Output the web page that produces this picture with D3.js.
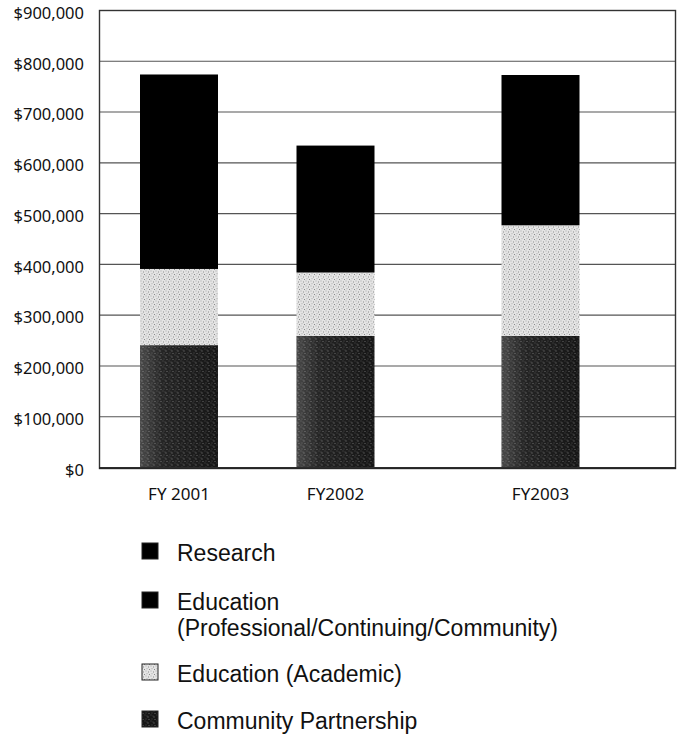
<!DOCTYPE html>
<html>
<head>
<meta charset="utf-8">
<script src="https://cdn.jsdelivr.net/npm/d3@7"></script>
<style>
  html, body { margin: 0; padding: 0; background: #fff; }
  svg { display: block; }
  text { font-family: "Noto Sans", "Open Sans", sans-serif; fill: #111; }
  text.legend { font-family: "Liberation Sans", Arial, sans-serif; }
</style>
</head>
<body>
<script>
// ---- Data ----
const categories = ["FY 2001", "FY2002", "FY2003"];
const communityPartnership = [240000, 258000, 258000];
const educationAcademic = [150000, 125000, 218000];
// Both black series show no visible boundary in the reference; the whole black block is shown as Research.
const educationProfessional = [0, 0, 0];
const research = [383000, 250000, 296000];
const yTicks = [0, 100000, 200000, 300000, 400000, 500000, 600000, 700000, 800000, 900000];
const legendLabels = [
  ["Research"],
  ["Education", "(Professional/Continuing/Community)"],
  ["Education (Academic)"],
  ["Community Partnership"]
];

const W = 678, H = 737;
const plot = { left: 99, right: 676, top: 10, bottom: 467 };

const svg = d3.select("body").append("svg").attr("width", W).attr("height", H);
const defs = svg.append("defs");

// Stipple textures
const pComm = defs.append("pattern").attr("id", "pComm").attr("patternUnits", "userSpaceOnUse")
  .attr("width", 6).attr("height", 6);
pComm.append("rect").attr("width", 6).attr("height", 6).attr("fill", "#161616");
[[0.5,0.5],[3.5,2.5],[1.5,4.5],[4.5,5.2],[2.5,1.5]].forEach(([cx,cy],i) =>
  pComm.append("rect").attr("x", cx).attr("y", cy).attr("width", 1).attr("height", 1)
    .attr("fill", i % 2 ? "#7a7a7a" : "#4a4a4a"));

const pAcad = defs.append("pattern").attr("id", "pAcad").attr("patternUnits", "userSpaceOnUse")
  .attr("width", 5).attr("height", 5);
pAcad.append("rect").attr("width", 5).attr("height", 5).attr("fill", "#e4e4e4");
[[0.5,0.5],[3,1.5],[1.5,3.2],[4,4]].forEach(([cx,cy],i) =>
  pAcad.append("rect").attr("x", cx).attr("y", cy).attr("width", 1).attr("height", 1)
    .attr("fill", i % 2 ? "#8a8a8a" : "#a8a8a8"));

// gradient overlay for community (lighter on left edge)
const grad = defs.append("linearGradient").attr("id", "gComm").attr("x1", 0).attr("x2", 1);
grad.append("stop").attr("offset", 0).attr("stop-color", "#fff").attr("stop-opacity", 0.22);
grad.append("stop").attr("offset", 0.3).attr("stop-color", "#fff").attr("stop-opacity", 0.06);
grad.append("stop").attr("offset", 1).attr("stop-color", "#fff").attr("stop-opacity", 0);

const keys = ["community", "academic", "professional", "research"];
const fills = {
  community: "url(#pComm)",
  academic: "url(#pAcad)",
  professional: "#000",
  research: "#000"
};

const table = categories.map((c, i) => ({
  cat: c,
  community: communityPartnership[i],
  academic: educationAcademic[i],
  professional: educationProfessional[i],
  research: research[i]
}));

const y = d3.scaleLinear().domain([0, 900000]).range([plot.bottom, plot.top]);
const x = d3.scaleOrdinal().domain(categories).range([179, 335.5, 540.5]);
const barW = 78;

// gridlines
svg.append("g").selectAll("line").data(yTicks).join("line")
  .attr("x1", plot.left).attr("x2", plot.right)
  .attr("y1", d => y(d) + 0.5).attr("y2", d => y(d) + 0.5)
  .attr("stroke", "#555").attr("stroke-width", 1.1);

// frame
svg.append("rect")
  .attr("x", plot.left + 0.5).attr("y", plot.top + 0.5)
  .attr("width", plot.right - plot.left - 1).attr("height", plot.bottom - plot.top + 1)
  .attr("fill", "none").attr("stroke", "#333").attr("stroke-width", 1.4);

// stacked bars
const stacked = d3.stack().keys(keys)(table);
const layers = svg.append("g").selectAll("g").data(stacked).join("g")
  .attr("fill", d => fills[d.key]);
layers.selectAll("rect").data(d => d.filter(s => s[1] > s[0])).join("rect")
  .attr("x", d => x(d.data.cat) - barW / 2)
  .attr("width", barW)
  .attr("y", d => y(d[1]))
  .attr("height", d => y(d[0]) - y(d[1]));

// gradient overlay on community segments
svg.append("g").selectAll("rect").data(stacked[0]).join("rect")
  .attr("x", d => x(d.data.cat) - barW / 2)
  .attr("width", barW)
  .attr("y", d => y(d[1]))
  .attr("height", d => y(d[0]) - y(d[1]))
  .attr("fill", "url(#gComm)");

// baseline
svg.append("line").attr("x1", plot.left).attr("x2", plot.right)
  .attr("y1", y(0) + 1).attr("y2", y(0) + 1).attr("stroke", "#222").attr("stroke-width", 1.6);

// y axis labels
const fmt = d3.format("$,");
svg.append("g").selectAll("text").data(yTicks).join("text")
  .attr("x", 84).attr("y", d => y(d) + 3)
  .attr("dy", "0.35em")
  .attr("text-anchor", "end")
  .style("font-size", "16.5px")
  .text(d => fmt(d));

// x labels
svg.append("g").selectAll("text").data(categories).join("text")
  .attr("x", d => x(d)).attr("y", 500)
  .attr("text-anchor", "middle")
  .style("font-size", "17px")
  .text(d => d);

// legend
const legendFills = [fills.research, fills.professional, "url(#pAcad)", "url(#pComm)"];
const legendY = d3.scaleOrdinal().domain(d3.range(4)).range([561, 610, 682, 729]);
const lg = svg.append("g").selectAll("g").data(legendLabels).join("g");
lg.append("rect")
  .attr("x", 142).attr("y", (d, i) => legendY(i) - 18)
  .attr("width", 16).attr("height", 16)
  .attr("fill", (d, i) => legendFills[i])
  .attr("stroke", "#222").attr("stroke-width", 1);
lg.selectAll("text").data((d, i) => d.map((t, j) => ({ t, i, j }))).join("text")
  .attr("class", "legend")
  .attr("x", 177)
  .attr("y", d => legendY(d.i) + d.j * 25.8)
  .style("font-size", "23px")
  .text(d => d.t);
</script>
</body>
</html>
